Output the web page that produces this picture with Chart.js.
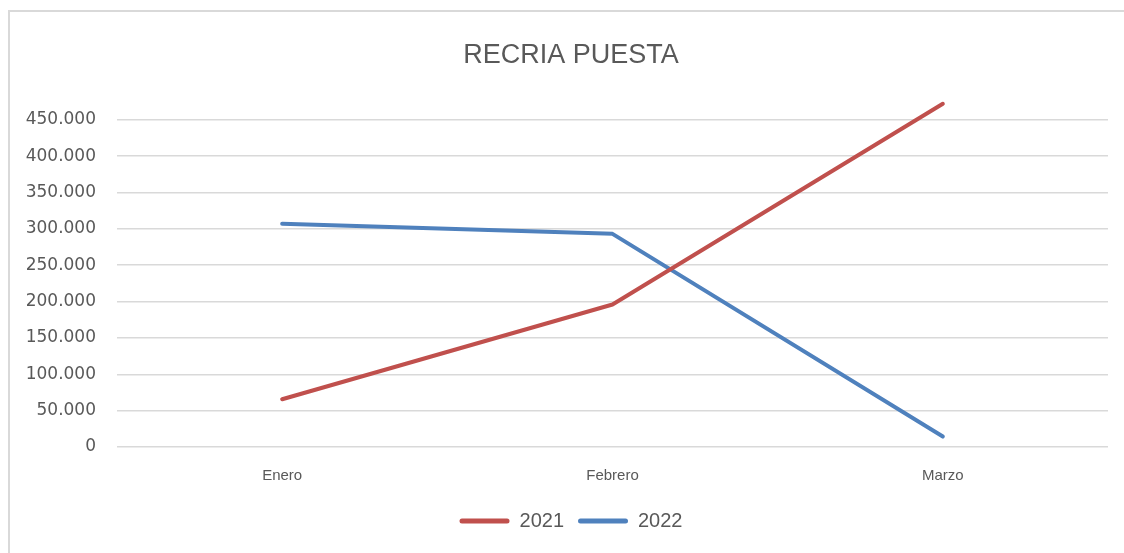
<!DOCTYPE html>
<html>
<head>
<meta charset="utf-8">
<script src="https://cdn.jsdelivr.net/npm/chart.js@4.4.1/dist/chart.umd.min.js"></script>
<style>
  html, body { margin: 0; padding: 0; background: #fff; }
  #wrap { position: relative; width: 1124px; height: 553px; overflow: hidden; }
  #frame {
    position: absolute; left: 8px; top: 10px; right: -4px; bottom: -4px;
    border-top: 2px solid #d9d9d9; border-left: 2px solid #d9d9d9;
  }
  #chart { position: absolute; left: 0; top: 0; }
</style>
</head>
<body>
<div id="wrap">
  <div id="frame"></div>
  <canvas id="chart" width="1124" height="553"></canvas>
</div>
<script>
  /* ── Data ────────────────────────────────────────────────────────────── */
  const MONTHS      = ['Enero', 'Febrero', 'Marzo'];
  const SERIES_2021 = [65700, 196000, 472000];
  const SERIES_2022 = [306900, 293100, 14400];
  const Y_MAX  = 500000;
  const Y_STEP = 50000;

  const TEXT = '#595959';
  const GRID = '#d9d9d9';
  const RED  = '#C0504D';
  const BLUE = '#4F81BD';

  // 450000 -> "450.000"
  function fmt(v) {
    return String(v).replace(/\B(?=(\d{3})+(?!\d))/g, '.');
  }

  // Title and legend sit centred on the outer frame, not on the canvas
  const shiftBoxes = {
    id: 'shiftBoxes',
    afterLayout(chart) {
      [chart.titleBlock, chart.legend].forEach(b => { if (b) b.left += 34; });
    },
  };

  new Chart(document.getElementById('chart').getContext('2d'), {
    type: 'line',
    data: {
      labels: MONTHS,
      datasets: [
        { label: '2021', data: SERIES_2021, borderColor: RED,  backgroundColor: RED },
        { label: '2022', data: SERIES_2022, borderColor: BLUE, backgroundColor: BLUE },
      ],
    },
    plugins: [shiftBoxes],
    options: {
      responsive: false,
      animation: false,
      devicePixelRatio: 1,
      layout: { padding: { left: 0, right: 16, top: 0, bottom: 12 } },
      elements: {
        line:  { borderWidth: 4, tension: 0, borderCapStyle: 'round', borderJoinStyle: 'round' },
        point: { radius: 0, hoverRadius: 0 },
      },
      plugins: {
        title: {
          display: true,
          text: 'RECRIA PUESTA',
          color: TEXT,
          font: { family: '"Liberation Sans", Arial, sans-serif', size: 27, weight: 'normal' },
          padding: { top: 39, bottom: 12 },
        },
        legend: {
          position: 'bottom',
          labels: {
            color: TEXT,
            font: { family: '"Liberation Sans", Arial, sans-serif', size: 20 },
            boxWidth: 50,
            boxHeight: 5,
            padding: 14,
            useBorderRadius: true,
            generateLabels: chart => chart.data.datasets.map((ds, i) => ({
              text: ds.label,
              fillStyle: ds.borderColor,
              strokeStyle: ds.borderColor,
              lineWidth: 0,
              borderRadius: 2.5,
              fontColor: TEXT,
              datasetIndex: i,
            })),
          },
        },
        tooltip: { enabled: false },
      },
      scales: {
        x: {
          offset: true,
          grid: { display: false, drawTicks: false },
          border: { display: false },
          ticks: {
            color: TEXT,
            padding: 20,
            font: { family: '"Liberation Sans Narrow", "Arial Narrow", "Liberation Sans", sans-serif', size: 15 },
          },
          afterFit: scale => { scale.height = 50; },
        },
        y: {
          min: 0,
          max: Y_MAX,
          grid: {
            drawTicks: false,
            lineWidth: 1.5,
            color: ctx => (ctx.tick && ctx.tick.value === Y_MAX ? 'transparent' : GRID),
          },
          border: { display: false },
          ticks: {
            stepSize: Y_STEP,
            color: TEXT,
            padding: 21,
            font: { family: '"DejaVu Sans", sans-serif', size: 17 },
            callback: v => (v === Y_MAX ? '' : fmt(v)),
          },
          afterFit: scale => { scale.width = 117; },
        },
      },
    },
  });
</script>
</body>
</html>
